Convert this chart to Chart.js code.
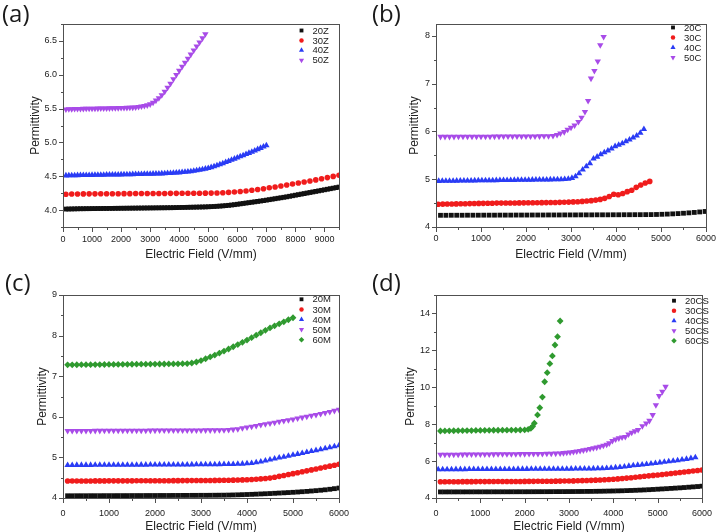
<!DOCTYPE html>
<html>
<head>
<meta charset="utf-8">
<script src="https://cdn.jsdelivr.net/npm/chart.js@4.4.1/dist/chart.umd.min.js"></script>
<style>
  body { margin: 0; background: #fff; }
  #wrap { position: relative; width: 722px; height: 532px; overflow: hidden; }
  .panel { position: absolute; width: 361px; height: 266px; }
  .tag { position: absolute; font: 24px "Open Sans", "Liberation Sans", sans-serif; color: #1a1a1a; line-height: 1; }
</style>
</head>
<body>
<div id="wrap">
  <div class="panel" style="left:0;top:0"><canvas id="ca" width="361" height="266"></canvas></div>
  <div class="panel" style="left:361px;top:0"><canvas id="cb" width="361" height="266"></canvas></div>
  <div class="panel" style="left:0;top:266px"><canvas id="cc" width="361" height="266"></canvas></div>
  <div class="panel" style="left:361px;top:266px"><canvas id="cd" width="361" height="266"></canvas></div>
  <div class="tag" style="left:2px;top:1px">(a)</div>
  <div class="tag" style="left:372px;top:1px">(b)</div>
  <div class="tag" style="left:5px;top:270px">(c)</div>
  <div class="tag" style="left:372px;top:270px">(d)</div>
</div>
<script>
// ---- (a) ----
const xA = [100,200,300,400,500,600,700,800,900,1000,1100,1200,1300,1400,1500,1600,1700,1800,1900,2000,
  2100,2200,2300,2400,2500,2600,2700,2800,2900,3000,3100,3200,3300,3400,3500,3600,3700,3800,3900,4000,
  4100,4200,4300,4400,4500,4600,4700,4800,4900,5000,5100,5200,5300,5400,5500,5600,5700,5800,5900,6000,
  6100,6200,6300,6400,6500,6600,6700,6800,6900,7000,7100,7200,7300,7400,7500,7600,7700,7800,7900,8000,
  8100,8200,8300,8400,8500,8600,8700,8800,8900,9000,9100,9200,9300,9400,9500];
const xA30 = [100,300,500,700,900,1100,1300,1500,1700,1900,2100,2300,2500,2700,2900,3100,3300,3500,3700,3900,
  4100,4300,4500,4700,4900,5100,5300,5500,5700,5900,6100,6300,6500,6700,6900,7100,7300,7500,7700,7900,
  8100,8300,8500,8700,8900,9100,9300,9500];
const y20Z = [4.015,4.016,4.017,4.018,4.019,4.02,4.02,4.021,4.021,4.022,
  4.022,4.023,4.023,4.024,4.024,4.025,4.025,4.026,4.026,4.027,
  4.027,4.028,4.028,4.029,4.029,4.03,4.03,4.031,4.031,4.032,
  4.032,4.033,4.033,4.034,4.034,4.035,4.035,4.036,4.037,4.038,
  4.039,4.04,4.041,4.042,4.043,4.044,4.045,4.046,4.047,4.049,
  4.051,4.053,4.056,4.059,4.062,4.066,4.07,4.075,4.08,4.086,
  4.092,4.098,4.104,4.11,4.116,4.122,4.128,4.134,4.14,4.147,
  4.154,4.161,4.168,4.175,4.182,4.189,4.196,4.204,4.212,4.22,
  4.228,4.236,4.244,4.252,4.26,4.268,4.276,4.284,4.292,4.3,
  4.308,4.316,4.324,4.332,4.34];
const y30Z = [4.235,4.237,4.238,4.239,4.24,4.24,4.241,4.241,4.242,4.242,
  4.243,4.243,4.244,4.244,4.245,4.245,4.246,4.246,4.247,4.247,
  4.248,4.248,4.249,4.249,4.25,4.251,4.253,4.256,4.261,4.267,
  4.274,4.283,4.293,4.304,4.316,4.329,4.342,4.356,4.37,4.385,
  4.4,4.415,4.43,4.446,4.463,4.48,4.498,4.515];
const y40Z = [4.51,4.511,4.512,4.513,4.514,4.515,4.516,4.517,4.517,4.518,
  4.519,4.52,4.52,4.521,4.522,4.522,4.523,4.524,4.524,4.525,
  4.526,4.527,4.528,4.529,4.53,4.531,4.532,4.533,4.534,4.535,
  4.536,4.537,4.538,4.54,4.542,4.544,4.546,4.549,4.552,4.555,
  4.559,4.563,4.567,4.572,4.578,4.585,4.593,4.601,4.61,4.62,
  4.632,4.645,4.659,4.674,4.69,4.707,4.724,4.741,4.758,4.775,
  4.792,4.809,4.826,4.843,4.86,4.879,4.898,4.917,4.937,4.957];
const y50Z = [5.49,5.492,5.494,5.495,5.496,5.497,5.498,5.499,5.5,5.5,
  5.501,5.502,5.503,5.504,5.505,5.506,5.507,5.508,5.509,5.51,
  5.511,5.513,5.515,5.517,5.52,5.525,5.532,5.54,5.55,5.565,
  5.59,5.62,5.655,5.7,5.75,5.81,5.87,5.935,5.998,6.06,
  6.12,6.18,6.24,6.3,6.36,6.42,6.48,6.54,6.6];

// ---- (b) ----
const x20C = [100,220,340,460,580,700,820,940,1060,1180,1300,1420,1540,1660,1780,1900,2020,2140,2260,2380,
  2500,2620,2740,2860,2980,3100,3220,3340,3460,3580,3700,3820,3940,4060,4180,4300,4420,4540,4660,4780,
  4900,5020,5140,5260,5380,5500,5620,5740,5860,5980];
const y20C = [4.245,4.245,4.246,4.246,4.246,4.247,4.247,4.247,4.248,4.248,
  4.248,4.249,4.249,4.249,4.25,4.25,4.25,4.251,4.251,4.251,
  4.252,4.252,4.252,4.253,4.253,4.253,4.254,4.254,4.254,4.255,
  4.255,4.255,4.256,4.256,4.257,4.257,4.258,4.258,4.259,4.26,
  4.262,4.266,4.27,4.275,4.281,4.288,4.296,4.305,4.315,4.325];
const x30C = [50,150,250,350,450,550,650,750,850,950,1050,1150,1250,1350,1450,1550,1650,1750,1850,1950,
  2050,2150,2250,2350,2450,2550,2650,2750,2850,2950,3050,3150,3250,3350,3450,3550,3650,3750,3850,3950,
  4050,4150,4250,4350,4450,4550,4650,4750];
const y30C = [4.475,4.478,4.48,4.482,4.484,4.486,4.488,4.49,4.492,4.494,
  4.495,4.497,4.498,4.5,4.5,4.502,4.503,4.504,4.505,4.506,
  4.507,4.508,4.509,4.51,4.511,4.512,4.514,4.516,4.518,4.521,
  4.525,4.53,4.536,4.543,4.552,4.563,4.578,4.6,4.64,4.685,
  4.675,4.7,4.74,4.77,4.83,4.88,4.92,4.955];
const x40C = [60,140,220,300,380,460,540,620,700,780,860,940,1020,1100,1180,1260,1340,1420,1500,1580,
  1660,1740,1820,1900,1980,2060,2140,2220,2300,2380,2460,2540,2620,2700,2780,2860,2940,3020,3100,3180,
  3260,3340,3420,3500,3580,3660,3740,3820,3900,3980,4060,4140,4220,4300,4380,4460,4540,4620];
const y40C = [4.962,4.963,4.964,4.965,4.966,4.967,4.968,4.969,4.97,4.971,
  4.972,4.973,4.974,4.975,4.976,4.977,4.978,4.979,4.98,4.981,
  4.982,4.983,4.984,4.985,4.986,4.987,4.988,4.989,4.99,4.991,
  4.992,4.993,4.994,4.995,4.997,5.0,5.008,5.025,5.06,5.12,
  5.2,5.27,5.33,5.43,5.47,5.52,5.56,5.6,5.64,5.69,
  5.72,5.75,5.79,5.83,5.87,5.91,5.97,6.05];
const x50C = [100,200,300,400,500,600,700,800,900,1000,1100,1200,1300,1400,1500,1600,1700,1800,1900,2000,
  2100,2200,2300,2400,2500,2600,2690,2765,2850,2925,3000,3080,3165,3235,3310,3380,3445,3520,3595,3650,3725];
const y50C = [5.89,5.89,5.891,5.891,5.892,5.892,5.893,5.893,5.894,5.894,
  5.895,5.895,5.896,5.896,5.897,5.897,5.898,5.898,5.899,5.899,
  5.9,5.9,5.901,5.902,5.904,5.907,5.93,5.96,5.99,6.04,
  6.08,6.13,6.2,6.29,6.41,6.64,7.11,7.27,7.47,7.81,7.98];

// ---- (c) ----
const xC = [100,200,300,400,500,600,700,800,900,1000,1100,1200,1300,1400,1500,1600,1700,1800,1900,2000,
  2100,2200,2300,2400,2500,2600,2700,2800,2900,3000,3100,3200,3300,3400,3500,3600,3700,3800,3900,4000,
  4100,4200,4300,4400,4500,4600,4700,4800,4900,5000,5100,5200,5300,5400,5500,5600,5700,5800,5900,6000];
const y20M = [4.055,4.055,4.056,4.056,4.056,4.057,4.057,4.057,4.058,4.058,
  4.058,4.059,4.059,4.059,4.06,4.06,4.06,4.061,4.061,4.061,
  4.062,4.062,4.062,4.063,4.063,4.064,4.064,4.065,4.065,4.066,
  4.066,4.067,4.068,4.069,4.07,4.072,4.075,4.078,4.082,4.086,
  4.09,4.095,4.1,4.105,4.11,4.116,4.122,4.128,4.134,4.14,
  4.147,4.155,4.163,4.172,4.181,4.191,4.202,4.215,4.23,4.245];
const y30M = [4.418,4.419,4.419,4.42,4.42,4.42,4.421,4.421,4.421,4.422,
  4.422,4.422,4.423,4.423,4.423,4.424,4.424,4.424,4.425,4.425,
  4.425,4.426,4.426,4.427,4.427,4.428,4.428,4.429,4.43,4.43,
  4.431,4.432,4.433,4.434,4.436,4.438,4.44,4.443,4.446,4.45,
  4.455,4.462,4.47,4.479,4.49,4.511,4.533,4.555,4.577,4.6,
  4.623,4.646,4.669,4.692,4.715,4.738,4.761,4.784,4.807,4.83];
const y40M = [4.81,4.81,4.811,4.811,4.812,4.812,4.813,4.813,4.814,4.814,
  4.815,4.815,4.816,4.816,4.817,4.817,4.818,4.818,4.819,4.819,
  4.82,4.82,4.821,4.821,4.822,4.822,4.823,4.824,4.825,4.826,
  4.827,4.828,4.829,4.83,4.831,4.832,4.834,4.837,4.842,4.85,
  4.86,4.875,4.895,4.92,4.945,4.968,4.991,5.014,5.037,5.06,
  5.083,5.106,5.129,5.152,5.175,5.198,5.221,5.244,5.268,5.295];
const y50M = [5.655,5.655,5.656,5.656,5.657,5.657,5.658,5.658,5.659,5.659,
  5.66,5.66,5.661,5.661,5.662,5.662,5.663,5.663,5.664,5.664,
  5.665,5.665,5.666,5.666,5.667,5.667,5.668,5.668,5.669,5.669,
  5.67,5.67,5.67,5.671,5.672,5.678,5.688,5.7,5.72,5.74,
  5.76,5.78,5.8,5.82,5.84,5.86,5.88,5.9,5.92,5.94,
  5.962,5.984,6.006,6.028,6.05,6.075,6.1,6.125,6.15,6.175];
const y60M = [7.28,7.281,7.282,7.283,7.284,7.285,7.286,7.287,7.288,7.289,
  7.29,7.291,7.292,7.293,7.294,7.295,7.296,7.297,7.298,7.299,
  7.3,7.301,7.302,7.303,7.305,7.308,7.312,7.325,7.35,7.385,
  7.43,7.475,7.52,7.57,7.62,7.67,7.725,7.78,7.835,7.89,
  7.95,8.01,8.07,8.13,8.19,8.24,8.29,8.34,8.39,8.44];

// ---- (d) ----
const x40CS = [50,150,250,350,450,550,650,750,850,950,1050,1150,1250,1350,1450,1550,1650,1750,1850,1950,
  2050,2150,2250,2350,2450,2550,2650,2750,2850,2950,3050,3150,3250,3350,3450,3550,3650,3750,3850,3950,
  4050,4150,4250,4350,4450,4550,4650,4750,4850,4950,5050,5150,5250,5350,5450,5550,5650,5750,5850];
const x50CS = [100,200,300,400,500,600,700,800,900,1000,1100,1200,1300,1400,1500,1600,1700,1800,1900,2000,
  2100,2200,2300,2400,2500,2600,2700,2800,2875,2950,3025,3100,3175,3250,3325,3400,3475,3550,
  3625,3700,3775,3850,3910,3980,4052,4124,4197,4270,4342,4415,4488,4560,4655,4742,4815,4887,4960,5033,5105,5178];
const x60CS = [100,200,300,400,500,600,700,800,900,1000,1100,1200,1300,1400,1500,1600,1700,1800,1900,2000,
  2080,2140,2180,2218,2290,2341,2400,2451,2509,2568,2625,2684,2742,2800];
const y20CS = [4.33,4.33,4.331,4.331,4.332,4.332,4.333,4.333,4.334,4.334,
  4.335,4.335,4.336,4.336,4.337,4.337,4.338,4.338,4.339,4.339,
  4.34,4.341,4.342,4.343,4.344,4.345,4.346,4.347,4.348,4.349,
  4.35,4.352,4.354,4.356,4.358,4.362,4.365,4.37,4.375,4.38,
  4.386,4.392,4.4,4.408,4.417,4.427,4.438,4.45,4.463,4.477,
  4.491,4.505,4.52,4.535,4.55,4.567,4.585,4.603,4.621,4.64];
const y30CS = [4.88,4.881,4.882,4.883,4.884,4.885,4.886,4.887,4.888,4.889,
  4.89,4.891,4.892,4.893,4.894,4.895,4.896,4.897,4.898,4.899,
  4.9,4.902,4.904,4.906,4.908,4.91,4.912,4.915,4.918,4.922,
  4.927,4.933,4.94,4.948,4.957,4.967,4.978,4.99,5.003,5.017,
  5.035,5.055,5.077,5.1,5.125,5.15,5.175,5.2,5.225,5.25,
  5.277,5.304,5.331,5.358,5.385,5.412,5.439,5.466,5.493,5.52];
const y40CS = [5.55,5.551,5.552,5.553,5.554,5.555,5.556,5.557,5.558,5.559,
  5.56,5.561,5.562,5.563,5.564,5.565,5.566,5.567,5.568,5.569,
  5.57,5.571,5.572,5.573,5.574,5.575,5.576,5.577,5.578,5.58,
  5.582,5.584,5.586,5.589,5.592,5.596,5.6,5.606,5.615,5.63,
  5.65,5.675,5.7,5.73,5.76,5.785,5.81,5.835,5.865,5.89,
  5.92,5.95,5.98,6.01,6.04,6.075,6.11,6.15,6.2];
const y50CS = [6.35,6.352,6.354,6.356,6.358,6.36,6.362,6.364,6.366,6.368,
  6.37,6.372,6.374,6.376,6.378,6.38,6.382,6.384,6.386,6.388,
  6.39,6.392,6.395,6.398,6.402,6.407,6.413,6.42,
  6.44,6.46,6.48,6.5,6.53,6.56,6.59,6.62,6.66,6.7,
  6.74,6.79,6.84,6.9,6.97,7.1,7.18,7.24,7.29,7.32,
  7.45,7.54,7.63,7.69,7.9,8.05,8.19,8.5,9.04,9.53,9.76,10.03];
const y60CS = [7.63,7.635,7.64,7.645,7.65,7.65,7.655,7.655,7.66,7.66,
  7.665,7.665,7.67,7.67,7.675,7.675,7.68,7.68,7.685,7.69,
  7.72,7.78,7.88,8.05,8.5,8.89,9.47,10.3,10.79,11.28,11.7,12.29,12.74,13.59];

const NARROW = '"Liberation Sans Narrow", "Liberation Sans", Arial, sans-serif';
const PLAIN = '"Liberation Sans", Arial, sans-serif';

const MARK = {
  sq: { style: "rect", rot: 0, r: 3.4, color: "#111111" },
  ci: { style: "circle", rot: 0, r: 2.8, color: "#f01c1c" },
  tu: { style: "triangle", rot: 0, r: 3.7, color: "#2a3cf5" },
  td: { style: "triangle", rot: 180, r: 3.7, color: "#a84be8" },
  di: { style: "rectRot", rot: 0, r: 3.4, color: "#2f9a2f" }
};

function pts(xs, ys) {
  return ys.map((y, i) => ({ x: xs[i], y }));
}

function series(label, xs, ys, mark) {
  const m = MARK[mark];
  return {
    label,
    data: pts(xs, ys),
    pointStyle: m.style,
    pointRotation: m.rot,
    pointRadius: m.r,
    pointBackgroundColor: m.color,
    pointBorderColor: m.color,
    pointBorderWidth: 0,
    showLine: false,
    _mark: m
  };
}

function drawMarker(ctx, m, x, y, r) {
  ctx.save();
  ctx.fillStyle = m.color;
  ctx.translate(x, y);
  ctx.rotate(m.rot * Math.PI / 180);
  ctx.beginPath();
  if (m.style === "rect") {
    const s = r * Math.SQRT1_2;
    ctx.rect(-s, -s, 2 * s, 2 * s);
  } else if (m.style === "circle") {
    ctx.arc(0, 0, r, 0, Math.PI * 2);
  } else if (m.style === "triangle") {
    for (let k = 0; k < 3; k++) {
      const a = -Math.PI / 2 + k * 2 * Math.PI / 3;
      ctx[k ? "lineTo" : "moveTo"](Math.cos(a) * r, Math.sin(a) * r);
    }
    ctx.closePath();
  } else {
    ctx.moveTo(0, -r); ctx.lineTo(r, 0); ctx.lineTo(0, r); ctx.lineTo(-r, 0); ctx.closePath();
  }
  ctx.fill();
  ctx.restore();
}

// frame, outward ticks (major/minor) and the in-plot legend
const framePlugin = {
  id: "frame",
  afterDraw(chart, args, opts) {
    const { ctx, chartArea: a } = chart;
    ctx.save();
    ctx.strokeStyle = "#505050";
    ctx.lineWidth = 1;
    ctx.strokeRect(Math.round(a.left) + 0.5, Math.round(a.top) + 0.5,
      Math.round(a.right - a.left), Math.round(a.bottom - a.top));
    ctx.beginPath();
    const xs = chart.scales.x, ys = chart.scales.y;
    xs.ticks.forEach((t) => {
      const p = Math.round(xs.getPixelForValue(t.value)) + 0.5;
      const len = t.label ? 4 : 2;
      ctx.moveTo(p, Math.round(a.bottom)); ctx.lineTo(p, Math.round(a.bottom) + 1 + len);
    });
    ys.ticks.forEach((t) => {
      const p = Math.round(ys.getPixelForValue(t.value)) + 0.5;
      const len = t.label ? 4 : 2;
      ctx.moveTo(Math.round(a.left) + 1, p); ctx.lineTo(Math.round(a.left) - len, p);
    });
    ctx.stroke();

    ctx.font = "9.5px " + PLAIN;
    ctx.fillStyle = "#222";
    ctx.textBaseline = "middle";
    chart.data.datasets.forEach((ds, i) => {
      const y = opts.y + i * opts.dy;
      drawMarker(ctx, ds._mark, opts.x, y, ds._mark.r * 0.8);
      ctx.fillText(ds.label, opts.tx, y + 0.5);
    });
    ctx.restore();
  }
};

function makePanel(id, p) {
  new Chart(document.getElementById(id), {
    type: "scatter",
    data: { datasets: p.datasets },
    options: {
      responsive: false,
      animation: false,
      events: [],
      layout: { padding: { top: p.top, right: p.right, left: 0, bottom: 0 } },
      plugins: {
        legend: { display: false },
        tooltip: { enabled: false },
        frame: p.legend
      },
      scales: {
        x: {
          type: "linear",
          min: 0,
          max: p.xMax,
          grid: { display: false, drawTicks: false },
          border: { display: false },
          ticks: {
            stepSize: 500,
            autoSkip: false,
            maxRotation: 0,
            padding: p.xPad,
            color: "#222",
            font: { family: NARROW, size: 9 },
            callback: (v) => (v % 1000 === 0 ? String(v) : "")
          },
          title: {
            display: true,
            text: "Electric Field (V/mm)",
            color: "#222",
            font: { family: NARROW, size: 12 },
            padding: { top: 0, bottom: p.xTitlePad }
          },
          afterFit: (s) => { s.height = p.xH; }
        },
        y: {
          type: "linear",
          min: p.yMin,
          max: p.yMax,
          grid: { display: false, drawTicks: false },
          border: { display: false },
          ticks: {
            stepSize: p.yStep,
            autoSkip: false,
            includeBounds: false,
            padding: 6,
            color: "#222",
            font: { family: NARROW, size: 9 },
            callback: p.yLabel
          },
          title: {
            display: true,
            text: "Permittivity",
            color: "#222",
            font: { family: NARROW, size: 12 },
            padding: { top: p.yTitlePad, bottom: 0 }
          },
          afterFit: (s) => { s.width = p.yW; }
        }
      }
    },
    plugins: [framePlugin]
  });
}

const near = (v, step) => Math.abs(v / step - Math.round(v / step)) < 1e-6;

makePanel("ca", {
  datasets: [
    series("20Z", xA, y20Z, "sq"),
    series("30Z", xA30, y30Z, "ci"),
    series("40Z", xA, y40Z, "tu"),
    series("50Z", xA, y50Z, "td")
  ],
  top: 24, right: 22, yW: 63, xH: 39, xMax: 9500,
  yMin: 3.75, yMax: 6.75, yStep: 0.25,
  yLabel: (v) => (near(v, 0.5) ? v.toFixed(1) : ""),
  xPad: 7, xTitlePad: 4, yTitlePad: 28,
  legend: { x: 301.5, y: 30.5, dy: 9.9, tx: 312.5 }
});

makePanel("cb", {
  datasets: [
    series("20C", x20C, y20C, "sq"),
    series("30C", x30C, y30C, "ci"),
    series("40C", x40C, y40C, "tu"),
    series("50C", x50C, y50C, "td")
  ],
  top: 24, right: 11, yW: 75, xH: 39, xMax: 6000,
  yMin: 4, yMax: 8.25, yStep: 0.5,
  yLabel: (v) => (near(v, 1) ? String(Math.round(v)) : ""),
  xPad: 6, xTitlePad: 4, yTitlePad: 46,
  legend: { x: 312, y: 27.5, dy: 10, tx: 323 }
});

makePanel("cc", {
  datasets: [
    series("20M", xC, y20M, "sq"),
    series("30M", xC, y30M, "ci"),
    series("40M", xC, y40M, "tu"),
    series("50M", xC, y50M, "td"),
    series("60M", xC, y60M, "di")
  ],
  top: 29, right: 22, yW: 63, xH: 34, xMax: 6000,
  yMin: 4, yMax: 9, yStep: 0.5,
  yLabel: (v) => (near(v, 1) ? String(Math.round(v)) : ""),
  xPad: 10, xTitlePad: -2, yTitlePad: 35,
  legend: { x: 301.5, y: 33.3, dy: 10.1, tx: 312.5 }
});

makePanel("cd", {
  datasets: [
    series("20CS", xC, y20CS, "sq"),
    series("30CS", xC, y30CS, "ci"),
    series("40CS", x40CS, y40CS, "tu"),
    series("50CS", x50CS, y50CS, "td"),
    series("60CS", x60CS, y60CS, "di")
  ],
  top: 29, right: 11, yW: 75, xH: 34, xMax: 6000,
  yMin: 4, yMax: 15, yStep: 1,
  yLabel: (v) => (near(v, 2) ? String(Math.round(v)) : ""),
  xPad: 10, xTitlePad: -2, yTitlePad: 42,
  legend: { x: 313, y: 34.7, dy: 10, tx: 324 }
});
</script>
</body>
</html>
